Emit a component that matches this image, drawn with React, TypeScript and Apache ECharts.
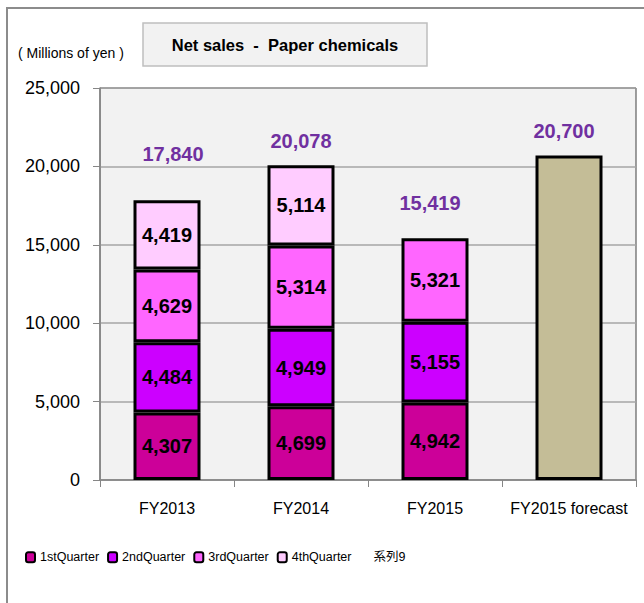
import React, { useEffect, useRef } from "react";
import * as echarts from "echarts";

const categories = ["FY2013", "FY2014", "FY2015", "FY2015 forecast"];
const q1 = [4307, 4699, 4942, null];
const q2 = [4484, 4949, 5155, null];
const q3 = [4629, 5314, 5321, null];
const q4 = [4419, 5114, null, null];
const forecast = [null, null, null, 20700];
const totals = [17840, 20078, 15419, 20700];
const seriesNames = ["1stQuarter", "2ndQuarter", "3rdQuarter", "4thQuarter", "系列9"];
const yTicks = { min: 0, max: 25000, interval: 5000 };

const colors = ["#cc0099", "#cc00ff", "#ff66ff", "#ffccff"];
const totalLabelOffsets = [
  [6, -35],
  [0, -13],
  [-5, -24],
  [-5, -13],
];

const fmt = (v: number) => v.toLocaleString("en-US");
const FONT = "Liberation Sans, Arial, Noto Sans CJK JP, sans-serif";

export default function App() {
  const ref = useRef<HTMLDivElement>(null);
  useEffect(() => {
    document.body.style.margin = "0";
    if (!ref.current) return;
    const chart = echarts.init(ref.current, null, { renderer: "svg" });
    const quarters = [q1, q2, q3, q4];
    const barLabel = {
      show: true,
      position: "inside",
      color: "#000",
      fontSize: 20,
      fontWeight: "bold",
      fontFamily: FONT,
      formatter: (p: any) => fmt(p.value),
    };
    const series: any[] = quarters.map((d, i) => ({
      name: seriesNames[i],
      type: "bar",
      stack: "total",
      barWidth: "50%",
      data: d,
      itemStyle: { color: colors[i], borderColor: "#000", borderWidth: 3 },
      label: barLabel,
    }));
    series.push({
      name: "forecast",
      type: "bar",
      stack: "total",
      barWidth: "50%",
      data: forecast,
      itemStyle: { color: "#c4bd97", borderColor: "#000", borderWidth: 3 },
    });
    series.push({
      name: seriesNames[4],
      type: "scatter",
      symbol: "circle",
      symbolSize: 2,
      itemStyle: { color: "rgba(255,255,255,0)", opacity: 1 },
      data: totals.map((v, i) => ({
        value: v,
        label: { offset: totalLabelOffsets[i] },
      })),
      label: {
        show: true,
        position: "top",
        distance: 0,
        color: "#7030a0",
        fontSize: 20,
        fontWeight: "bold",
        fontFamily: FONT,
        formatter: (p: any) => fmt(p.value),
      },
      z: 10,
    });

    chart.setOption({
      animation: false,
      backgroundColor: "#fff",
      textStyle: { fontFamily: FONT },
      graphic: [
        {
          type: "rect",
          shape: { x: 7, y: 8, width: 800, height: 800 },
          style: { fill: "none", stroke: "#8c8c8c", lineWidth: 2 },
          silent: true,
        },
        {
          type: "rect",
          shape: { x: 143, y: 23, width: 284, height: 43 },
          style: { fill: "#f2f2f2", stroke: "#bfbfbf", lineWidth: 1.5 },
        },
        {
          type: "text",
          x: 285,
          y: 45,
          style: {
            text: "Net sales  -  Paper chemicals",
            fontSize: 16.5,
            fontWeight: "bold",
            fontFamily: FONT,
            fill: "#000",
            align: "center",
            verticalAlign: "middle",
          },
        },
        {
          type: "text",
          x: 18,
          y: 53,
          style: {
            text: "( Millions of yen )",
            fontSize: 14,
            fontFamily: FONT,
            fill: "#000",
            align: "left",
            verticalAlign: "middle",
          },
        },
      ],
      legend: {
        left: 25,
        top: 551,
        padding: 0,
        itemWidth: 9,
        itemHeight: 10,
        itemGap: 8,
        data: [
          ...seriesNames.slice(0, 4).map((n) => ({ name: n })),
          { name: seriesNames[4], icon: "none" },
        ],
        itemStyle: { borderColor: "#000", borderWidth: 2 },
        textStyle: {
          fontSize: 12.5,
          color: "#000",
          fontFamily: FONT,
        },
      },
      grid: {
        left: 100,
        top: 88,
        right: 8,
        bottom: 123,
        show: true,
        backgroundColor: "#f2f2f2",
        borderColor: "#404040",
        borderWidth: 1,
      },
      xAxis: {
        type: "category",
        data: categories,
        axisLine: { lineStyle: { color: "#868686", width: 1.5 } },
        axisTick: { show: true, length: 7, lineStyle: { color: "#868686" } },
        axisLabel: { fontSize: 16, color: "#000", margin: 20, interval: 0 },
      },
      yAxis: {
        type: "value",
        min: yTicks.min,
        max: yTicks.max,
        interval: yTicks.interval,
        axisLine: { show: true, lineStyle: { color: "#868686", width: 1.5 } },
        axisTick: { show: true, length: 7, lineStyle: { color: "#868686" } },
        splitLine: { lineStyle: { color: "#a6a6a6", width: 1.5 } },
        axisLabel: {
          fontSize: 18,
          color: "#000",
          margin: 20,
          formatter: (v: number) => fmt(v),
        },
      },
      series,
    });
    return () => chart.dispose();
  }, []);
  return <div ref={ref} style={{ width: 644, height: 603 }} />;
}
